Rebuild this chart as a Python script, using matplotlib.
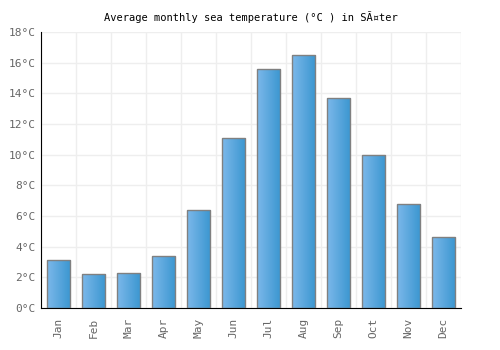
import numpy as np
import matplotlib
matplotlib.use('Agg')
import matplotlib.pyplot as plt
from matplotlib.colors import LinearSegmentedColormap

months = ['Jan', 'Feb', 'Mar', 'Apr', 'May', 'Jun', 'Jul', 'Aug', 'Sep', 'Oct', 'Nov', 'Dec']
temps = [3.1, 2.2, 2.3, 3.4, 6.4, 11.1, 15.6, 16.5, 13.7, 10.0, 6.8, 4.6]
yticks = [0, 2, 4, 6, 8, 10, 12, 14, 16, 18]

plt.rcParams['font.family'] = ['DejaVu Sans Mono']

fig = plt.figure(figsize=(5, 3.5), dpi=100)
ax = fig.add_axes([0.082, 0.12, 0.84, 0.789])

x = np.arange(len(months))
bars = ax.bar(x, temps, width=0.68, color='none', edgecolor='#808080', linewidth=1, zorder=3)

cmap = LinearSegmentedColormap.from_list('grad', ['#7cb8ea', '#3a96d0'])
grad = np.linspace(0, 1, 100).reshape(1, -1)
for b in bars:
    bx, by = b.get_x(), b.get_y()
    im = ax.imshow(grad, cmap=cmap, aspect='auto', zorder=2,
                   extent=[bx, bx + b.get_width(), by, by + b.get_height()])
    im.set_clip_path(b)

ax.set_xlim(-0.5, len(months) - 0.5)
ax.set_ylim(0, 18)
ax.set_yticks(yticks)
ax.set_yticklabels([f'{t}°C' for t in yticks])
ax.set_xticks(x)
ax.set_xticklabels(months, rotation=90)
ax.set_xticks(np.arange(-0.5, len(months)), minor=True)
ax.grid(True, which='minor', axis='x', color='#eeeeee', linewidth=1, zorder=0)
ax.grid(True, which='major', axis='y', color='#eeeeee', linewidth=1, zorder=0)
ax.tick_params(axis='both', which='both', length=0, labelsize=8, colors='#666666', pad=4)
ax.tick_params(axis='x', which='major', pad=7)
for s in ['top', 'right']:
    ax.spines[s].set_visible(False)
ax.spines['left'].set_color('black')
ax.spines['bottom'].set_color('black')
ax.set_axisbelow(True)

ax.set_title('Average monthly sea temperature (°C ) in SÃ¤ter', fontsize=7.5, pad=8)

fig.savefig('out.png', dpi=100)
